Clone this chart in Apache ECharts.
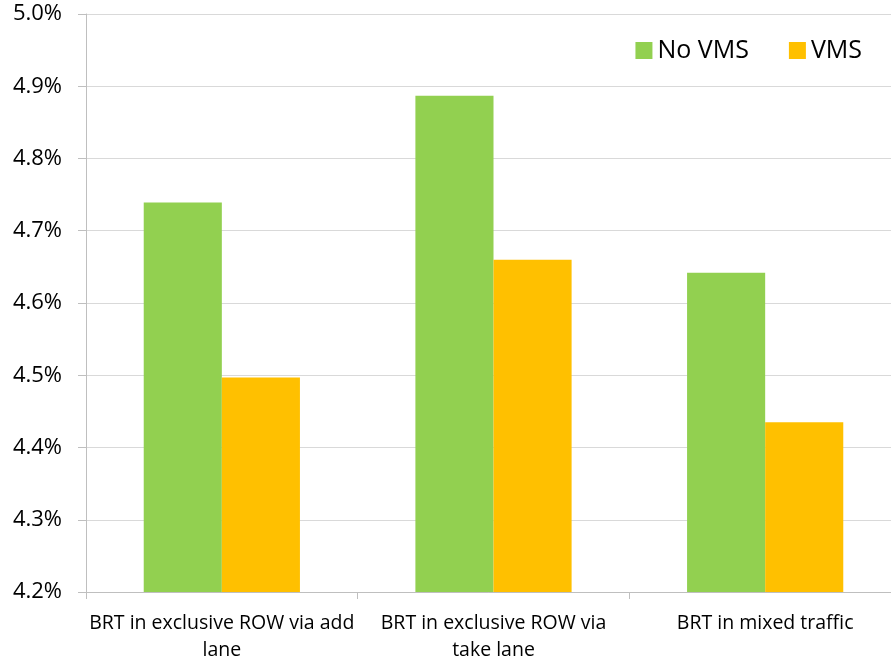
<!DOCTYPE html>
<html><head><meta charset="utf-8">
<script src="https://cdn.jsdelivr.net/npm/echarts@6/dist/echarts.min.js"></script>
<style>html,body{margin:0;padding:0;background:#fff}#c{width:891px;height:661px}</style>
</head><body><div id="c"></div>
<script>
const categories = ["BRT in exclusive ROW via add\nlane", "BRT in exclusive ROW via\ntake lane", "BRT in mixed traffic"];
const seriesNames = ["No VMS", "VMS"];
const noVms = [4.739, 4.887, 4.642];
const vms = [4.497, 4.660, 4.435];
const yMin = 4.2, yMax = 5.0, yStep = 0.1;

const chart = echarts.init(document.getElementById('c'));
chart.setOption({
  animation: false,
  textStyle: {fontFamily: 'Open Sans'},
  legend: {
    data: seriesNames, right: 24, top: 33, itemWidth: 17, itemHeight: 17, itemGap: 40,
    icon: 'rect', textStyle: {fontSize: 25, color: '#000', fontFamily: 'Open Sans'}
  },
  grid: {left: 86, width: 815, top: 14, bottom: 69, containLabel: false, outerBoundsMode: 'none'},
  xAxis: {
    type: 'category', data: categories,
    axisLine: {lineStyle: {color: '#BFBFBF', width: 1}},
    axisTick: {show: true, length: 7, lineStyle: {color: '#BFBFBF'}},
    axisLabel: {fontSize: 19.5, color: '#000', margin: 18, lineHeight: 27, fontFamily: 'Open Sans', interval: 0}
  },
  yAxis: {
    type: 'value', min: yMin, max: yMax, interval: yStep,
    axisLine: {show: true, lineStyle: {color: '#BFBFBF'}},
    axisTick: {show: true, length: 8, lineStyle: {color: '#BFBFBF'}},
    splitLine: {lineStyle: {color: '#D9D9D9', width: 1}},
    axisLabel: {fontSize: 22, color: '#000', margin: 24, fontFamily: 'Open Sans',
      formatter: v => v.toFixed(1) + '%'}
  },
  series: [
    {name: seriesNames[0], type: 'bar', data: noVms, itemStyle: {color: '#92D050'}, barGap: '0%', barCategoryGap: '42.5%'},
    {name: seriesNames[1], type: 'bar', data: vms, itemStyle: {color: '#FFC000'}, barGap: '0%', barCategoryGap: '42.5%'}
  ]
});
</script></body></html>
